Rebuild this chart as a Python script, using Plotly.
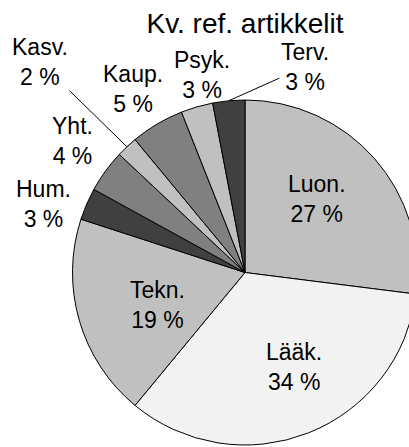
"""Kv. ref. artikkelit - pie chart."""

import math

import plotly.graph_objects as go


categories = ["Luon.", "Lääk.", "Tekn.", "Hum.", "Yht.", "Kasv.", "Kaup.", "Psyk.", "Terv."]
shares = [27, 34, 19, 3, 4, 2, 5, 3, 3]

FILLS = ["#c0c0c0", "#f2f2f2", "#c0c0c0", "#404040", "#808080",
         "#c0c0c0", "#808080", "#c0c0c0", "#404040"]
# label anchor: fraction of radius along the slice middle, then pixel shift
# (x, y up) - or arrow offset (ax, ay down) for the leader-line labels
LABEL_POS = {
    "Luon.": (0.6, -6, 5, False),
    "Lääk.": (0.6, 11, 2, False),
    "Tekn.": (0.6, 12, -4, False),
    "Hum.": (1.0, -43, 0, False),
    "Yht.": (1.0, -33, 30, False),
    "Kasv.": (1.0, -87, -85, True),
    "Kaup.": (1.0, -24, 35, False),
    "Psyk.": (1.0, 5, 32, False),
    "Terv.": (1.0, 76, -34, True),
}

FONT = "Liberation Sans, Arial, sans-serif"
W, H = 490, 447
T, B = 100, 2

fig = go.Figure(
    go.Pie(
        labels=categories,
        values=shares,
        sort=False,
        direction="clockwise",
        rotation=0,
        marker=dict(colors=FILLS, line=dict(color="#000000", width=1)),
        textinfo="none",
        hoverinfo="skip",
        showlegend=False,
    )
)

# pie geometry in pixels (domain fills the plot area)
radius = min(W, H - T - B) / 2
cx, cy = W / 2, T + (H - T - B) / 2
total = sum(shares)
cum = 0
for name, value in zip(categories, shares):
    mid = (cum + value / 2) / total * 2 * math.pi
    cum += value
    frac, dx, dy, arrow = LABEL_POS[name]
    px = cx + frac * radius * math.sin(mid)
    py = cy - frac * radius * math.cos(mid)
    ann = dict(
        x=px / W,
        y=(H - B - py) / (H - T - B),
        xref="paper",
        yref="paper",
        text=f"{name}<br>{value} %",
        font=dict(family=FONT, size=23, color="#000000"),
        align="center",
    )
    if arrow:
        ann.update(showarrow=True, ax=dx, ay=dy, arrowhead=0, arrowwidth=1,
                   arrowcolor="#000000", standoff=0)
    else:
        ann.update(showarrow=False, xshift=dx, yshift=dy,
                   xanchor="center", yanchor="middle")
    fig.add_annotation(**ann)

fig.update_layout(
    width=W,
    height=H,
    margin=dict(l=0, r=0, t=T, b=B),
    paper_bgcolor="#ffffff",
    plot_bgcolor="#ffffff",
    title=dict(
        text="Kv. ref. artikkelit",
        x=0.5,
        xanchor="center",
        y=1 - 23 / H,
        yanchor="middle",
        font=dict(family=FONT, size=28, color="#000000"),
    ),
)

fig.write_html(
    "out.html",
    post_script="document.body.style.margin='0';document.body.style.overflow='hidden';"
                "document.documentElement.style.overflow='hidden';",
)
